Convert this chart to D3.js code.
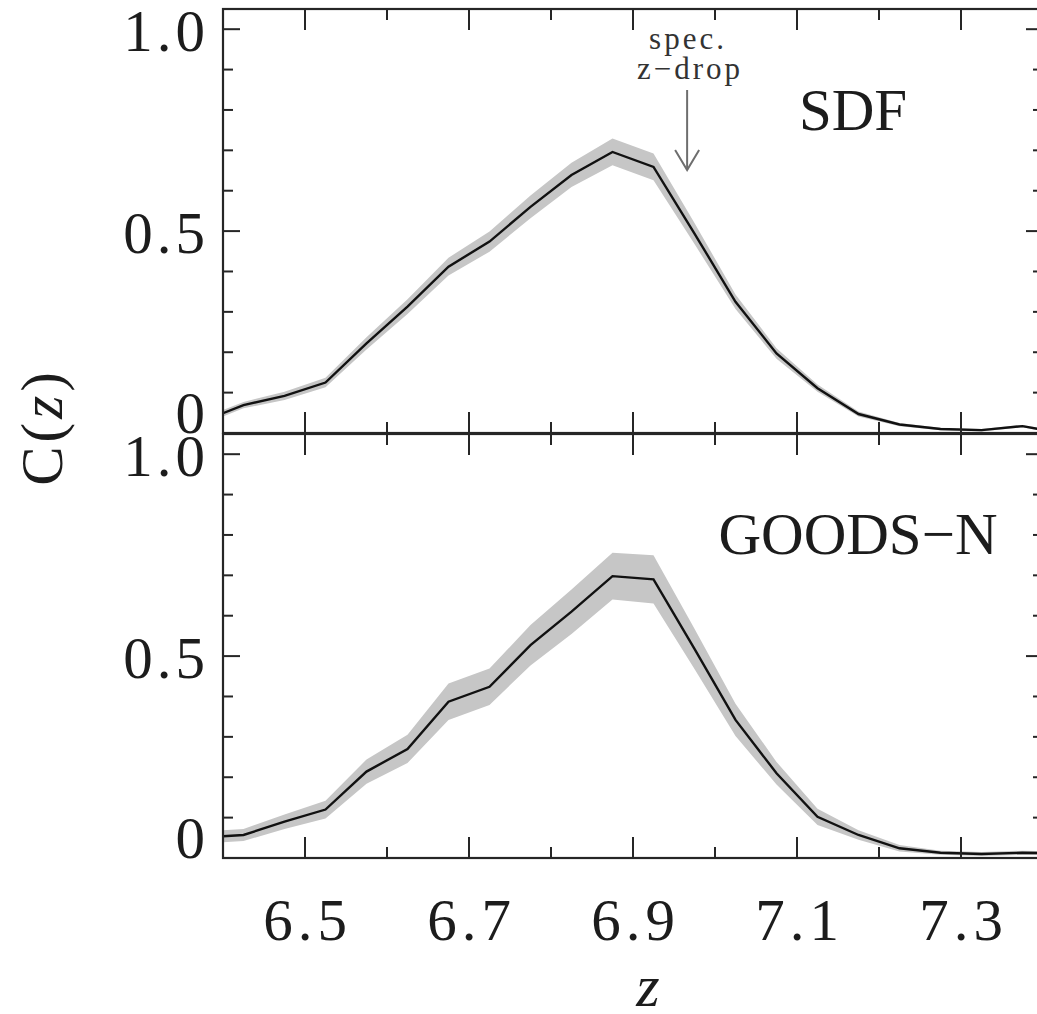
<!DOCTYPE html>
<html><head><meta charset="utf-8">
<script src="https://cdn.jsdelivr.net/npm/d3@7"></script>
<style>html,body{margin:0;padding:0;background:#fff;overflow:hidden}</style>
</head><body>
<svg id="chart" width="1037" height="1014"></svg>
<script>
// ---- data ----
const zValues = [6.4, 6.425, 6.475, 6.525, 6.575, 6.625, 6.675, 6.725, 6.775, 6.825, 6.875, 6.925, 6.975, 7.025, 7.075, 7.125, 7.175, 7.225, 7.275, 7.325, 7.375, 7.4];
const sdfC    = [0.049, 0.069, 0.092, 0.125, 0.222, 0.313, 0.412, 0.474, 0.560, 0.639, 0.696, 0.659, 0.494, 0.325, 0.197, 0.111, 0.047, 0.021, 0.010, 0.007, 0.017, 0.008];
const sdfErr  = [0.008, 0.008, 0.010, 0.012, 0.015, 0.018, 0.022, 0.025, 0.028, 0.030, 0.033, 0.033, 0.026, 0.018, 0.013, 0.009, 0.006, 0.004, 0.003, 0.003, 0.003, 0.003];
const goodsC  = [0.054, 0.057, 0.090, 0.120, 0.214, 0.270, 0.387, 0.424, 0.527, 0.610, 0.698, 0.690, 0.518, 0.342, 0.210, 0.102, 0.057, 0.024, 0.013, 0.010, 0.013, 0.012];
const goodsErr= [0.015, 0.015, 0.018, 0.022, 0.030, 0.035, 0.045, 0.045, 0.050, 0.055, 0.058, 0.060, 0.050, 0.040, 0.028, 0.020, 0.012, 0.008, 0.005, 0.005, 0.005, 0.005];
const xMajorTicks = [6.5, 6.7, 6.9, 7.1, 7.3];
const xMinorTicks = [6.6, 6.8, 7.0, 7.2, 7.4];
const xTickLabels = ["6.5", "6.7", "6.9", "7.1", "7.3"];
const yMajorTicks = [0, 0.5, 1.0];
const yTickLabels = ["0", "0.5", "1.0"];
const yMinorTicks = [0.1, 0.2, 0.3, 0.4, 0.6, 0.7, 0.8, 0.9];
const panelNames = ["SDF", "GOODS\u2212N"];

// ---- layout ----
const svg = d3.select("#chart");
const FONT = "'Liberation Serif', 'Times New Roman', serif";
const left = 223, right = 1043;
const x = d3.scaleLinear().domain([6.4, 7.4]).range([left, right]);
const panels = [
  {name: panelNames[0], c: sdfC, e: sdfErr, y: d3.scaleLinear().domain([0, 1.05]).range([433, 9]), labelPos: [853, 130]},
  {name: panelNames[1], c: goodsC, e: goodsErr, y: d3.scaleLinear().domain([0, 1.05]).range([858, 434]), labelPos: [858, 554]}
];
const axisColor = "#262626";

panels.forEach((p, i) => {
  const top = p.y.range()[1], bot = p.y.range()[0];
  const clipId = "clip" + i;
  svg.append("clipPath").attr("id", clipId).append("rect")
    .attr("x", left).attr("y", top).attr("width", right - left).attr("height", bot - top);
  const g = svg.append("g").attr("clip-path", `url(#${clipId})`);
  const data = zValues.map((z, k) => ({z, c: p.c[k], e: p.e[k]}));
  g.append("path").datum(data)
    .attr("d", d3.area().x(d => x(d.z)).y0(d => p.y(d.c - d.e)).y1(d => p.y(d.c + d.e)))
    .attr("fill", "#c6c6c6");
  g.append("path").datum(data)
    .attr("d", d3.line().x(d => x(d.z)).y(d => p.y(d.c)))
    .attr("fill", "none").attr("stroke", "#111").attr("stroke-width", 2.4).attr("stroke-linejoin", "miter");

  // frame
  svg.append("rect").attr("x", left).attr("y", top).attr("width", right - left).attr("height", bot - top)
    .attr("fill", "none").attr("stroke", axisColor).attr("stroke-width", 2.2);

  // x ticks (top and bottom of each panel, inward)
  const tk = svg.append("g").attr("stroke", axisColor).attr("stroke-width", 2);
  xMajorTicks.forEach(t => {
    tk.append("line").attr("x1", x(t)).attr("x2", x(t)).attr("y1", top).attr("y2", top + 21);
    tk.append("line").attr("x1", x(t)).attr("x2", x(t)).attr("y1", bot).attr("y2", bot - 21);
  });
  xMinorTicks.forEach(t => {
    tk.append("line").attr("x1", x(t)).attr("x2", x(t)).attr("y1", top).attr("y2", top + 11);
    tk.append("line").attr("x1", x(t)).attr("x2", x(t)).attr("y1", bot).attr("y2", bot - 11);
  });
  // y ticks (left and right)
  yMajorTicks.forEach(t => {
    tk.append("line").attr("x1", left).attr("x2", left + 17).attr("y1", p.y(t)).attr("y2", p.y(t));
    tk.append("line").attr("x1", right).attr("x2", right - 17).attr("y1", p.y(t)).attr("y2", p.y(t));
  });
  yMinorTicks.forEach(t => {
    tk.append("line").attr("x1", left).attr("x2", left + 10).attr("y1", p.y(t)).attr("y2", p.y(t));
    tk.append("line").attr("x1", right).attr("x2", right - 10).attr("y1", p.y(t)).attr("y2", p.y(t));
  });
  // y tick labels
  yMajorTicks.forEach((t, k) => {
    svg.append("text").attr("x", 205 + 4).attr("y", p.y(t) + (t === 0 ? 0 : 22))
      .attr("text-anchor", "end").attr("font-family", FONT).attr("font-size", 59)
      .attr("letter-spacing", 4).attr("fill", "#1c1c1c").text(yTickLabels[k]);
  });
  // panel label
  svg.append("text").attr("x", p.labelPos[0]).attr("y", p.labelPos[1])
    .attr("text-anchor", "middle").attr("font-family", FONT).attr("font-size", 59)
    .attr("fill", "#1c1c1c").text(p.name);
});

// x tick labels
xMajorTicks.forEach((t, k) => {
  svg.append("text").attr("x", x(t) + 2.5).attr("y", 940)
    .attr("text-anchor", "middle").attr("font-family", FONT).attr("font-size", 59)
    .attr("letter-spacing", 5).attr("fill", "#1c1c1c").text(xTickLabels[k]);
});
// axis titles
svg.append("text").attr("x", 648).attr("y", 1006).attr("text-anchor", "middle")
  .attr("font-family", FONT).attr("font-style", "italic").attr("font-size", 60).attr("fill", "#1c1c1c").text("z");
const yt = svg.append("text").attr("transform", "translate(62,427) rotate(-90)").attr("text-anchor", "middle")
  .attr("font-family", FONT).attr("font-size", 59).attr("letter-spacing", 4).attr("fill", "#1c1c1c");
yt.append("tspan").text("C(");
yt.append("tspan").attr("font-style", "italic").text("z");
yt.append("tspan").text(")");

// annotation
svg.append("text").attr("x", 688).attr("y", 49).attr("text-anchor", "middle")
  .attr("font-family", FONT).attr("font-size", 31).attr("letter-spacing", 3).attr("fill", "#333").text("spec.");
svg.append("text").attr("x", 690).attr("y", 79).attr("text-anchor", "middle")
  .attr("font-family", FONT).attr("font-size", 31).attr("letter-spacing", 3).attr("fill", "#333").text("z\u2212drop");
const arrowZ = 6.966;
const ag = svg.append("g").attr("stroke", "#6e6e6e").attr("stroke-width", 2).attr("fill", "none");
ag.append("line").attr("x1", x(arrowZ)).attr("x2", x(arrowZ)).attr("y1", 90).attr("y2", 170);
ag.append("path").attr("d", `M${x(arrowZ) - 12},150 L${x(arrowZ)},170 L${x(arrowZ) + 12},150`);
</script>
</body></html>
